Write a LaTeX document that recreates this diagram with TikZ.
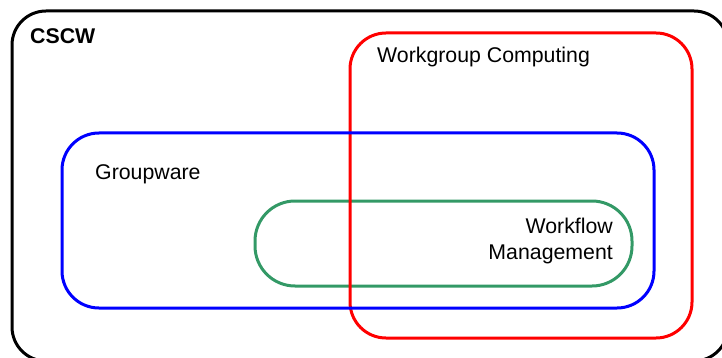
\documentclass[tikz,border=0pt]{standalone}
\usepackage{fontspec}
\setmainfont{Liberation Sans}
\definecolor{wfgreen}{RGB}{51,153,102}
\begin{document}
\begin{tikzpicture}[x=1pt,y=-1pt,
  area/.style={draw, line width=3pt, rectangle, inner sep=0pt, outer sep=0pt},
  lbl/.style={inner sep=0pt, font=\fontsize{21.3}{26}\selectfont}]
\useasboundingbox (0,0) rectangle (722,358);
\clip (0,0) rectangle (722,358);
\node[area, draw=black, minimum width=716pt, minimum height=350pt, rounded corners=34pt] (cscw) at (370,186) {};
\node[area, draw=wfgreen, minimum width=377pt, minimum height=85pt, rounded corners=40pt] (wfm) at (443.5,243.5) {};
\node[area, draw=red, minimum width=342pt, minimum height=305pt, rounded corners=36pt] (wgc) at (521,185.5) {};
\node[area, draw=blue, minimum width=592pt, minimum height=175pt, rounded corners=37pt] (gw) at (358,220.5) {};
\node[lbl, anchor=base west, font=\fontsize{21.3}{26}\selectfont\bfseries] (tcscw) at (30,44) {CSCW};
\node[lbl, anchor=base west] (twgc) at (377,63) {Workgroup Computing};
\node[lbl, anchor=base west] (tgw) at (95,179) {Groupware};
\node[lbl, anchor=base east] (twf) at (613,233) {Workflow};
\node[lbl, anchor=base east] (tmg) at (613,259) {Management};
\end{tikzpicture}
\end{document}
